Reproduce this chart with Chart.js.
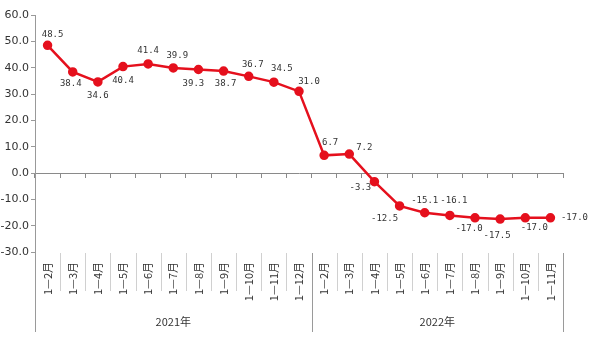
<!DOCTYPE html>
<html>
<head>
<meta charset="utf-8">
<script src="https://cdn.jsdelivr.net/npm/chart.js@4.4.0/dist/chart.umd.min.js"></script>
<style>
  html, body { margin: 0; padding: 0; background: #fff; }
  #wrap { width: 592px; height: 347px; position: relative; }
</style>
</head>
<body>
<div id="wrap"><canvas id="myChart"></canvas></div>
<script>
// data
const months = ['1—2月', '1—3月', '1—4月', '1—5月', '1—6月', '1—7月', '1—8月', '1—9月', '1—10月', '1—11月', '1—12月',
                '1—2月', '1—3月', '1—4月', '1—5月', '1—6月', '1—7月', '1—8月', '1—9月', '1—10月', '1—11月']
const growth = [48.5, 38.4, 34.6, 40.4, 41.4, 39.9, 39.3, 38.7, 36.7, 34.5, 31.0,
                6.7, 7.2, -3.3, -12.5, -15.1, -16.1, -17.0, -17.5, -17.0, -17.0]
const years = ['2021年', '2022年']
const yearCounts = [11, 10]
const yTicks = [-30, -20, -10, 0, 10, 20, 30, 40, 50, 60]

// where each value label sits relative to its point (px)
const labelShift = [
    [5, -11], [-2, 12], [0, 14], [0, 14], [0, -13], [4, -12], [-5, 14], [2, 13], [4, -12], [8, -13], [10, -10],
    [6, -13], [15, -6], [-14, 6], [-15, 13], [0, -12], [4, -15], [-6, 11], [-3, 17], [9, 10], [24, 0]
]

const red = '#e5101d'

const valueLabels = {
    id: 'valueLabels',
    afterDatasetsDraw(chart) {
        const ctx = chart.ctx
        const meta = chart.getDatasetMeta(0)
        ctx.save()
        ctx.font = '9px "DejaVu Sans Mono"'
        ctx.fillStyle = '#333'
        ctx.textAlign = 'center'
        ctx.textBaseline = 'middle'
        meta.data.forEach((pt, i) => {
            const s = labelShift[i]
            ctx.fillText(growth[i].toFixed(1), pt.x + s[0], pt.y + s[1])
        })
        ctx.restore()
    }
}

const yearGroups = {
    id: 'yearGroups',
    afterDraw(chart) {
        const ctx = chart.ctx
        const xs = chart.scales.x
        const top = chart.chartArea.bottom + 1
        ctx.save()
        // separators between months
        ctx.lineWidth = 1
        let groupEdges = [0]
        let acc = 0
        yearCounts.forEach(c => { acc += c; groupEdges.push(acc) })
        for (let i = 0; i <= months.length; i++) {
            const px = Math.round(xs.getPixelForValue(i - 0.5)) + 0.5
            const isGroup = groupEdges.includes(i)
            ctx.strokeStyle = isGroup ? '#9a9a9a' : '#d0d0d0'
            ctx.beginPath()
            ctx.moveTo(px, top)
            ctx.lineTo(px, isGroup ? 332 : 291)
            ctx.stroke()
        }
        // year names
        ctx.font = '11px "Noto Sans CJK SC"'
        ctx.fillStyle = '#333'
        ctx.textAlign = 'center'
        ctx.textBaseline = 'middle'
        years.forEach((y, g) => {
            const a = xs.getPixelForValue(groupEdges[g] - 0.5)
            const b = xs.getPixelForValue(groupEdges[g + 1] - 0.5)
            ctx.fillText(y, (a + b) / 2, 322)
        })
        ctx.restore()
    }
}

const ctx = document.getElementById('myChart')
new Chart(ctx, {
    type: 'line',
    data: {
        labels: months,
        datasets: [{
            data: growth,
            borderColor: red,
            backgroundColor: red,
            borderWidth: 2.5,
            pointRadius: 3.5,
            pointBackgroundColor: red,
            pointBorderColor: red,
            tension: 0,
            clip: false
        }]
    },
    options: {
        responsive: true,
        maintainAspectRatio: false,
        animation: false,
        events: [],
        layout: {
            padding: { top: 15, right: 29, left: 0, bottom: 0 }
        },
        plugins: {
            legend: { display: false },
            tooltip: { enabled: false }
        },
        scales: {
            x: {
                type: 'category',
                offset: true,
                grid: { display: false, drawTicks: false },
                border: { display: false },
                ticks: {
                    autoSkip: false,
                    minRotation: 90,
                    maxRotation: 90,
                    padding: 10,
                    color: '#333',
                    font: { family: '"Noto Sans CJK SC"', size: 11 }
                },
                afterFit(scale) { scale.height = 95 }
            },
            x0: {
                type: 'category',
                position: { y: 0 },
                offset: true,
                grid: { drawOnChartArea: false, offset: true, tickLength: 4, color: '#8a8a8a' },
                border: { color: '#8a8a8a' },
                ticks: { display: false }
            },
            y: {
                min: yTicks[0],
                max: yTicks[yTicks.length - 1],
                afterBuildTicks(scale) { scale.ticks = yTicks.map(v => ({ value: v })) },
                grid: { drawOnChartArea: false, tickLength: 4, color: '#999' },
                border: { color: '#999' },
                ticks: {
                    padding: 2,
                    color: '#333',
                    font: { family: '"DejaVu Sans"', size: 11 },
                    callback: v => Number(v).toFixed(1)
                },
                afterFit(scale) { scale.width = 35 }
            }
        }
    },
    plugins: [valueLabels, yearGroups]
})
</script>
</body>
</html>
